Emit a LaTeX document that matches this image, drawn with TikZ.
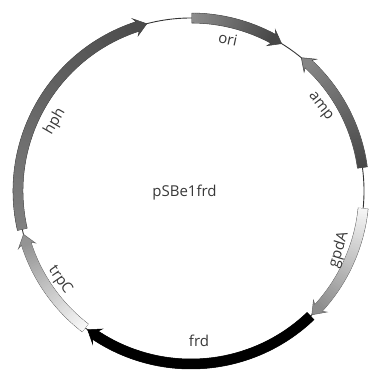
\documentclass[tikz,border=0pt]{standalone}
\usepackage{fontspec}
\setmainfont{Open Sans}
\begin{document}
\begin{tikzpicture}[x=1pt,y=1pt,
  lbl/.style={font=\fontsize{15}{15}\selectfont, text=black!78, inner sep=0pt},
  backbone/.style={draw=black!80, line width=0.9pt},
  featline/.style={draw=black!70, line width=0.5pt, line join=miter}]
\useasboundingbox (0,0) rectangle (368,-371);
\coordinate (c) at (191,-191);
\def\rin{168}\def\rout{178}\def\rmid{173}
% #1 start angle, #2 tip angle, #3 start colour, #4 end colour, #5 outline colour
\newcommand{\plasfeat}[5]{%
  \colorlet{fsA}{#3}\colorlet{fsB}{#4}\colorlet{fsL}{#5}%
  \pgfmathsetmacro{\sgn}{sign(#2-#1)}%
  \pgfmathsetmacro{\baseA}{#2-\sgn*3.2}%
  \pgfmathsetmacro{\barbA}{#2-\sgn*4.0}%
  \begin{scope}[shift={(c)}]
  \filldraw[featline, draw=fsL, fill=fsB]
    (#1:\rout pt) arc[start angle=#1, end angle=\baseA, radius=\rout pt]
    -- (\barbA:\rout pt+4pt) -- (#2:\rmid pt) -- (\barbA:\rin pt-4pt)
    -- (\baseA:\rin pt) arc[start angle=\baseA, end angle=#1, radius=\rin pt] -- cycle;
  \foreach \i in {0,...,39}{%
    \pgfmathsetmacro{\aA}{#1+(\baseA-#1)*\i/40}%
    \pgfmathsetmacro{\aB}{#1+(\baseA-#1)*(\i+1.4)/40}%
    \pgfmathtruncatemacro{\pct}{100*\i/39}%
    \fill[fsB!\pct!fsA] (\aA:\rout pt-0.3pt) arc[start angle=\aA, end angle=\aB, radius=\rout pt-0.3pt]
      -- (\aB:\rin pt+0.3pt) arc[start angle=\aB, end angle=\aA, radius=\rin pt+0.3pt] -- cycle;
  }
  \end{scope}
}
% backbone
\draw[backbone] (c) circle[radius=\rmid pt];
% features
\plasfeat{192.8}{104.8}{black!50}{black!70}{black!75}
\plasfeat{89.7}{58.4}{black!45}{black!72}{black!75}
\plasfeat{7.8}{50.4}{black!72}{black!48}{black!75}
\plasfeat{-5.8}{-45.7}{black!4}{black!45}{black!60}
\plasfeat{-46.3}{-126.7}{black}{black}{black}
\plasfeat{-127.7}{-165.5}{black!3}{black!42}{black!60}
% labels
\node[lbl, rotate=60] (hph) at (55,-122) {hph};
\node[lbl, rotate=-12] (ori) at (228,-39) {ori};
\node[lbl, rotate=-52] (amp) at (320,-107) {amp};
\node[lbl, rotate=73] (gpda) at (339,-250) {gpdA};
\node[lbl] (frd) at (199,-341) {frd};
\node[lbl, rotate=-55] (trpc) at (60,-280) {trpC};
\node[lbl] (name) at (184.5,-193) {pSBe1frd};
\end{tikzpicture}
\end{document}
